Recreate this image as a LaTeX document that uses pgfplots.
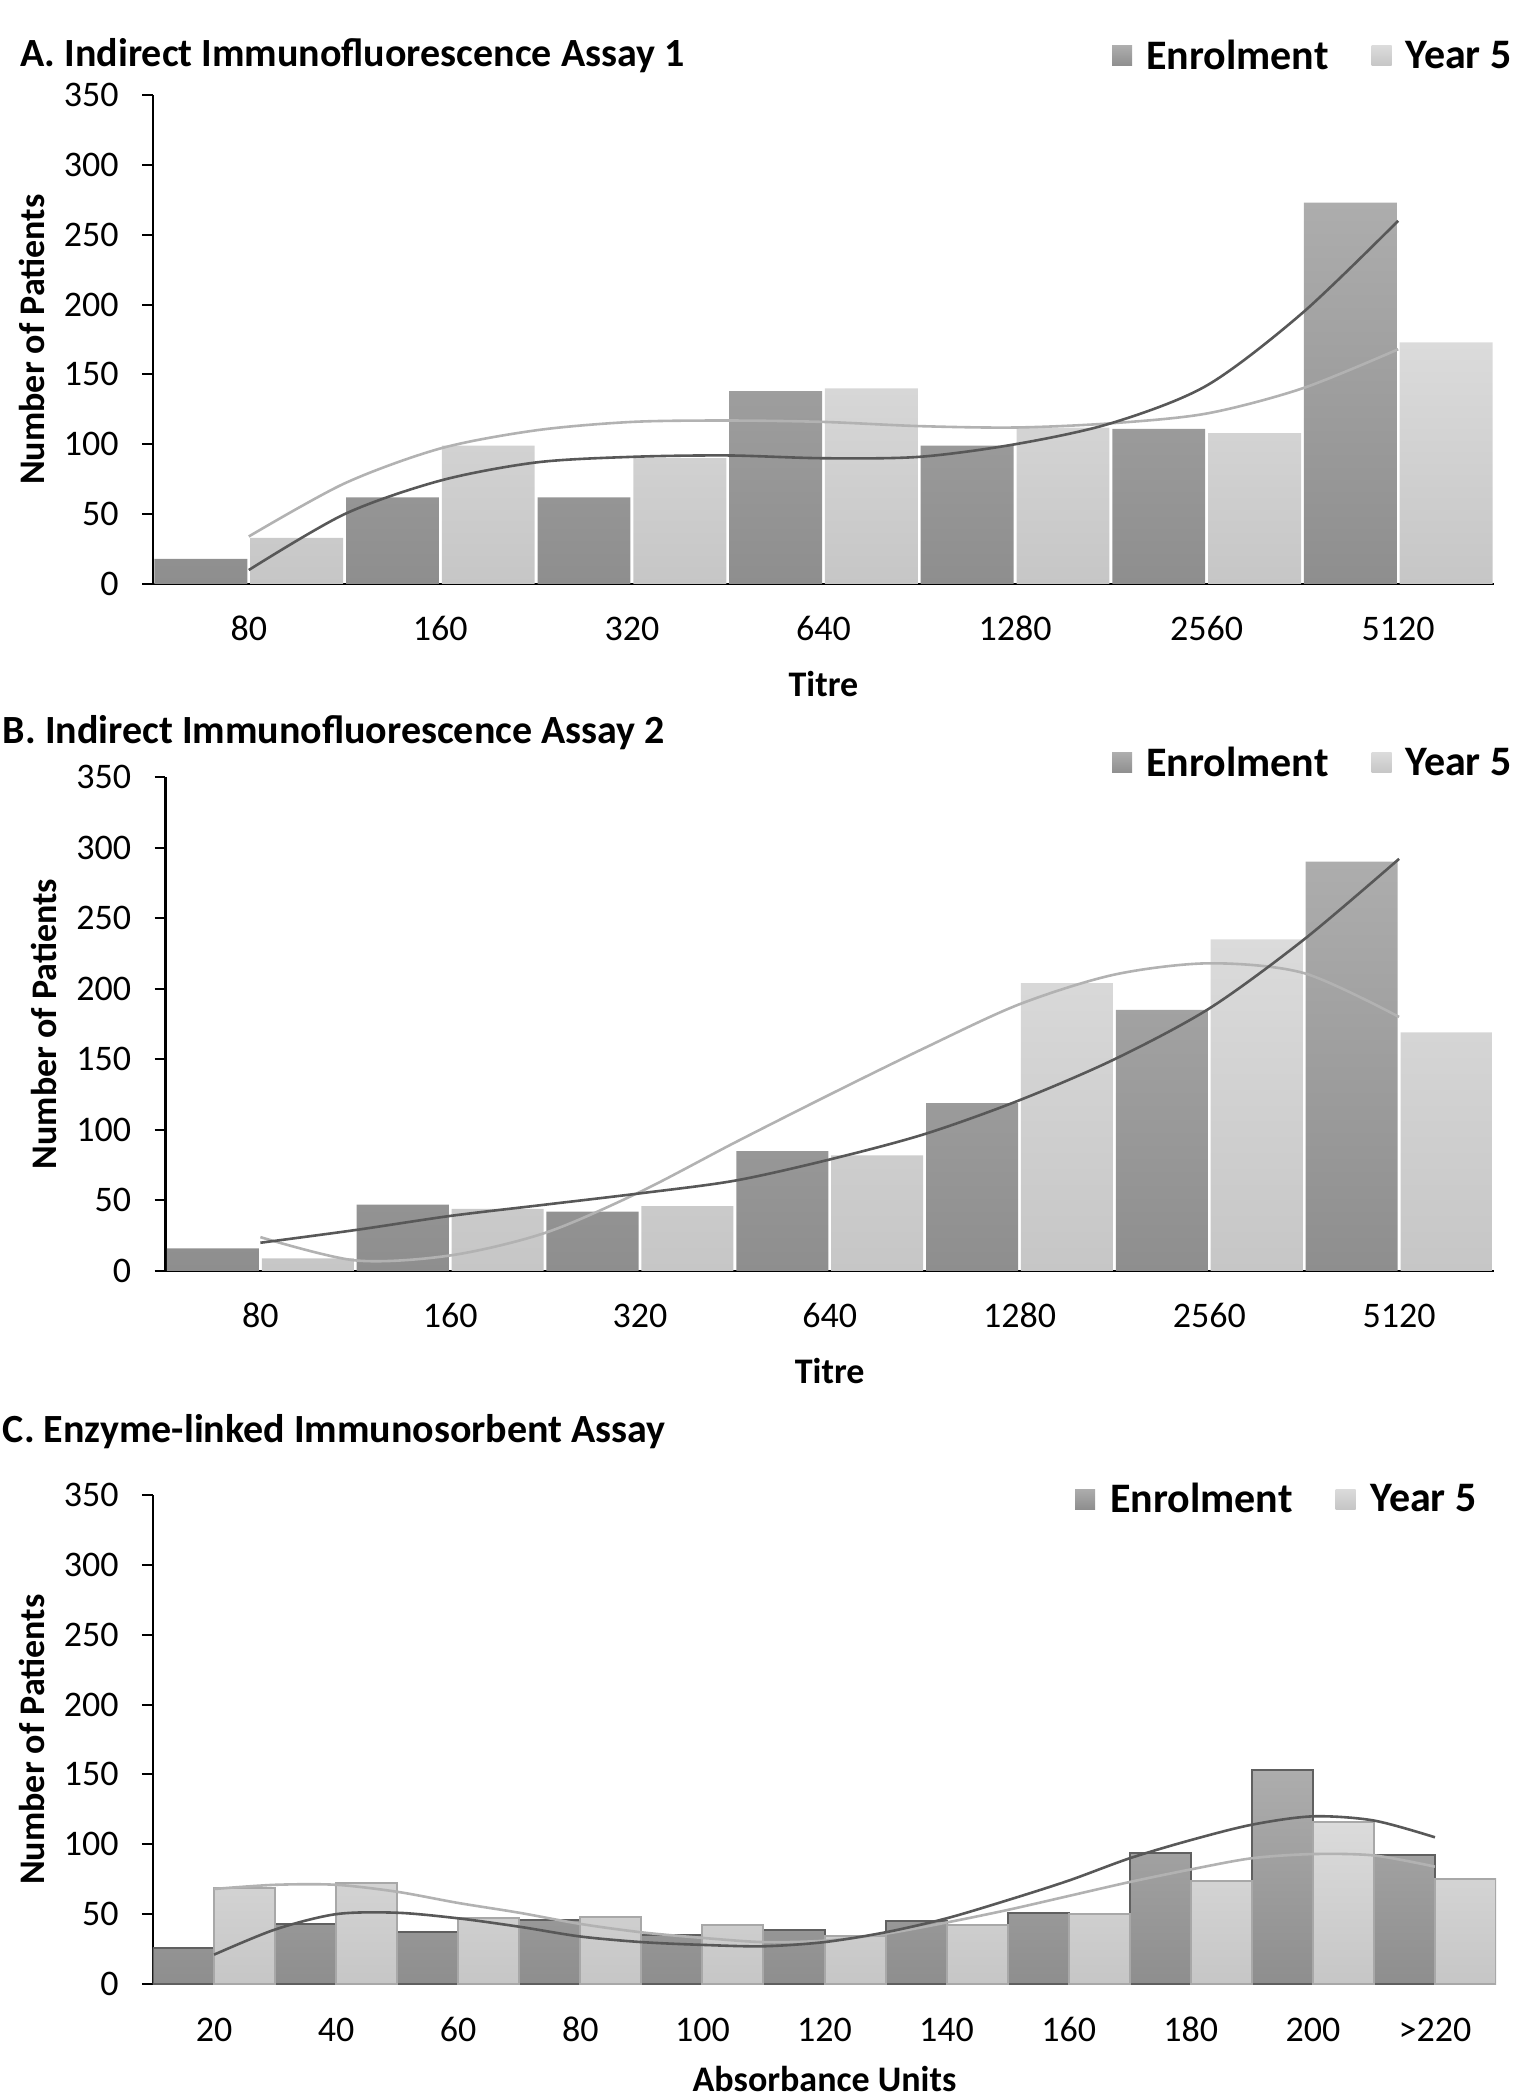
\documentclass[border=0pt]{standalone}
\usepackage{fontspec}
\setmainfont{Carlito}
\usepackage{pgfplots}
\pgfplotsset{compat=1.18}

\definecolor{enrtop}{HTML}{ADADAD}
\definecolor{enrbot}{HTML}{8E8E8E}
\definecolor{yrtop}{HTML}{DBDBDB}
\definecolor{yrbot}{HTML}{C6C6C6}
\definecolor{trenddark}{HTML}{585858}
\definecolor{trendlight}{HTML}{B2B2B2}
\definecolor{enrline}{HTML}{606060}
\definecolor{yrline}{HTML}{A8A8A8}

\pgfplotsset{
  legend image code/.code={\draw[#1,draw=none] (0pt,-5pt) rectangle (10pt,5pt); \path (17pt,0pt);},
  panel/.style={
    scale only axis,
    anchor=south west,
    xmin=0.5, ymin=0, ymax=350,
    ytick={0,50,...,350},
    axis x line*=bottom, axis y line*=left,
    axis line style={-, line width=1.2pt, black},
    tick align=outside,
    major tick length=5.5pt,
    xtick style={draw=none},
    ytick style={line width=1pt, black},
    /pgf/number format/assume math mode=true,
    tick label style={font=\fontsize{18}{21}\selectfont},
    xticklabel style={anchor=base, inner sep=0pt, yshift=-23pt},
    yticklabel style={anchor=east, inner sep=0pt},
    yticklabel shift=11.5pt,
    label style={font=\bfseries\fontsize{18}{21}\selectfont},
    ylabel={Number of Patients},
    xlabel style={at={(axis description cs:0.5,0)}, anchor=base, yshift=-56.5pt},
    legend columns=2,
    legend cell align=left,
    legend style={draw=none, fill=none, inner sep=0pt, anchor=east,
      font=\bfseries\fontsize{21}{25}\selectfont,
      nodes={inner sep=0pt},
      /tikz/every even column/.append style={column sep=21.5pt}},
  },
  enr/.style={ybar, bar width=0.485, bar shift=-0.25, draw=none, top color=enrtop, bottom color=enrbot},
  yr/.style={ybar, bar width=0.485, bar shift=0.25, draw=none, top color=yrtop, bottom color=yrbot},
  trE/.style={no markers, smooth, line width=1.3pt, color=trenddark, forget plot},
  trY/.style={no markers, smooth, line width=1.3pt, color=trendlight, forget plot},
}

\begin{document}
\begin{tikzpicture}
\path[use as bounding box] (0pt,0pt) rectangle (770pt,1050pt);

% A. IFA 1
\begin{axis}[panel,
  at={(76.5pt,758pt)}, width=670.5pt, height=244.5pt, xmax=7.5,
  xtick={1,...,7},
  xticklabels={\textrm{80},\textrm{160},\textrm{320},\textrm{640},\textrm{1280},\textrm{2560},\textrm{5120}},
  xlabel={Titre},
  ylabel style={at={(axis description cs:-0.0902,0.5)}, anchor=center},
  legend style={at={(axis description cs:1,1)}, xshift=9pt, yshift=19.5pt}]
\addplot[enr] coordinates {(1,18) (2,62) (3,62) (4,138) (5,99) (6,111) (7,273)};
\addlegendentry{Enrolment}
\addplot[yr] coordinates {(1,33) (2,99) (3,90) (4,140) (5,112) (6,108) (7,173)};
\addlegendentry{Year 5}
\addplot[trY] coordinates {(1,34) (1.5,72) (2,97) (2.5,110) (3,116) (3.5,117) (4,116) (4.5,113) (5,112) (5.5,115) (6,122) (6.5,140) (7,168)};
\addplot[trE] coordinates {(1,10) (1.5,50) (2,74) (2.5,87) (3,91) (3.5,92) (4,90) (4.5,91) (5,100) (5.5,115) (6,142) (6.5,194) (7,260)};
\end{axis}

% B. IFA 2
\begin{axis}[panel,
  at={(82.75pt,414.5pt)}, width=664.25pt, height=247pt, xmax=7.5,
  xtick={1,...,7},
  xticklabels={\textrm{80},\textrm{160},\textrm{320},\textrm{640},\textrm{1280},\textrm{2560},\textrm{5120}},
  xlabel={Titre},
  ylabel style={at={(axis description cs:-0.0915,0.5)}, anchor=center},
  legend style={at={(axis description cs:1,1)}, xshift=9pt, yshift=7pt}]
\addplot[enr] coordinates {(1,16) (2,47) (3,42) (4,85) (5,119) (6,185) (7,290)};
\addlegendentry{Enrolment}
\addplot[yr] coordinates {(1,9) (2,44) (3,46) (4,82) (5,204) (6,235) (7,169)};
\addlegendentry{Year 5}
\addplot[trY] coordinates {(1,24) (1.5,7.5) (2,11) (2.5,27) (3,56) (3.5,91) (4,125) (4.5,158) (5,189) (5.5,210) (6,218) (6.5,211) (7,180)};
\addplot[trE] coordinates {(1,20) (1.5,29) (2,39) (2.5,47) (3,55) (3.5,64) (4,79) (4.5,97) (5,121) (5.5,150) (6,186) (6.5,235) (7,292)};
\end{axis}

% C. ELISA
\begin{axis}[panel,
  at={(76.5pt,58pt)}, width=671.5pt, height=244.5pt, xmax=11.5,
  xtick={1,...,11},
  xticklabels={\textrm{20},\textrm{40},\textrm{60},\textrm{80},\textrm{100},\textrm{120},\textrm{140},\textrm{160},\textrm{180},\textrm{200},\textrm{>220}},
  xlabel={Absorbance Units},
  xlabel style={yshift=3pt},
  ylabel style={at={(axis description cs:-0.0901,0.5)}, anchor=center},
  legend style={at={(axis description cs:1,1)}, xshift=-9.5pt, yshift=-2pt}]
\addplot[enr, bar width=0.5, draw=enrline, line width=1pt] coordinates {(1,26) (2,43) (3,37) (4,46) (5,35) (6,39) (7,45) (8,51) (9,94) (10,153) (11,92)};
\addlegendentry{Enrolment}
\addplot[yr, bar width=0.5, draw=yrline, line width=1pt] coordinates {(1,69) (2,72) (3,47) (4,48) (5,42) (6,34) (7,42) (8,50) (9,74) (10,116) (11,75)};
\addlegendentry{Year 5}
\addplot[trY] coordinates {(1,68) (1.5,71) (2,71) (2.5,66) (3,58) (3.5,51) (4,43) (4.5,37) (5,33) (5.5,30) (6,31) (6.5,36) (7,44) (7.5,53) (8,63) (8.5,73) (9,82) (9.5,90) (10,93) (10.5,92) (11,84)};
\addplot[trE] coordinates {(1,21) (1.5,39) (2,50) (2.5,51) (3,47) (3.5,41) (4,34) (4.5,30) (5,28) (5.5,27) (6,30) (6.5,37) (7,47) (7.5,60) (8,74) (8.5,90) (9,103) (9.5,114) (10,120) (10.5,117) (11,105)};
\end{axis}

\node[anchor=base west, inner sep=0pt, font=\bfseries\fontsize{20}{24}\selectfont] at (10pt,1016.5pt) {A. Indirect Immunofluorescence Assay 1};
\node[anchor=base west, inner sep=0pt, font=\bfseries\fontsize{20}{24}\selectfont] at (1.25pt,678pt) {B. Indirect Immunofluorescence Assay 2};
\node[anchor=base west, inner sep=0pt, font=\bfseries\fontsize{20}{24}\selectfont] at (1.25pt,328.5pt) {C. Enzyme-linked Immunosorbent Assay};
\end{tikzpicture}
\end{document}
